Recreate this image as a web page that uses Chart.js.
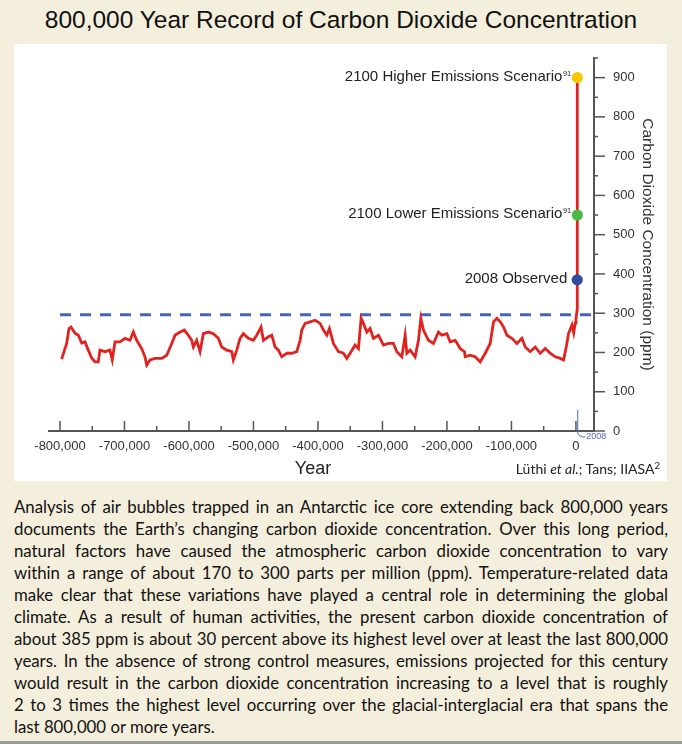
<!DOCTYPE html>
<html>
<head>
<meta charset="utf-8">
<script src="https://cdn.jsdelivr.net/npm/chart.js@4.4.1/dist/chart.umd.min.js"></script>
<style>
  html, body { margin: 0; padding: 0; }
  body {
    width: 682px; height: 744px; position: relative; overflow: hidden;
    background: #f4efdc; font-family: "Liberation Sans", Arial, sans-serif;
  }
  #title {
    position: absolute; left: 0; top: 5px; width: 682px;
    text-align: center; font-size: 24.5px; line-height: 30px; color: #111;
  }
  #panel {
    position: absolute; left: 14px; top: 44px; width: 653px; height: 437px;
    background: #fff;
  }
  #credit {
    position: absolute; right: 22px; top: 461px;
    font-family: Lato, sans-serif; font-size: 14px; line-height: 16px; color: #222;
  }
  #credit sup { font-size: 9.5px; vertical-align: 5px; line-height: 0; }
  #caption {
    position: absolute; left: 14px; top: 496px; width: 654px;
    font-family: Lato, sans-serif; font-size: 16.8px; line-height: 22px; color: #111;
  }
  #caption span { display: block; text-align: justify; text-align-last: justify; }
  #caption span:last-child { text-align-last: left; }
  #rule { position: absolute; left: 0; top: 741px; width: 682px; height: 3px; background: #9a9a9a; }
</style>
</head>
<body>
<div id="title">800,000 Year Record of Carbon Dioxide Concentration</div>
<div id="panel"><canvas id="co2Chart" width="653" height="437"></canvas></div>
<div id="credit">Lüthi <i>et al.</i>; Tans; IIASA<sup>2</sup></div>
<div id="caption">
<span>Analysis of air bubbles trapped in an Antarctic ice core extending back 800,000 years</span>
<span>documents the Earth’s changing carbon dioxide concentration. Over this long period,</span>
<span>natural factors have caused the atmospheric carbon dioxide concentration to vary</span>
<span>within a range of about 170 to 300 parts per million (ppm). Temperature-related data</span>
<span>make clear that these variations have played a central role in determining the global</span>
<span>climate. As a result of human activities, the present carbon dioxide concentration of</span>
<span>about 385 ppm is about 30 percent above its highest level over at least the last 800,000</span>
<span>years. In the absence of strong control measures, emissions projected for this century</span>
<span>would result in the carbon dioxide concentration increasing to a level that is roughly</span>
<span>2 to 3 times the highest level occurring over the glacial-interglacial era that spans the</span>
<span>last 800,000 or more years.</span>
</div>
<div id="rule"></div>
<script>
// ice core record + modern values (year, ppm)
const years = [
  -797400, -789600, -786000, -782900, -776700, -771600, -766300, -761200, -756100, -750800,
  -745700, -740600, -738000, -730200, -722500, -718900, -714700, -707000, -699200, -691400,
  -686300, -681000, -673300, -668200, -665500, -660400, -652600, -642200, -634500, -626700,
  -621600, -613800, -607200, -601000, -595700, -593200, -588000, -582800, -577700, -569900,
  -562200, -554400, -549200, -541400, -533600, -531200, -525900, -520800, -515700, -507900,
  -500100, -494900, -488200, -484600, -476900, -471600, -466500, -461400, -456100, -448300,
  -440600, -432800, -427700, -425100, -419900, -412200, -404400, -396700, -391500, -386300,
  -382200, -376000, -368300, -360500, -355300, -350100, -342400, -337200, -333100, -329500,
  -324200, -319100, -314000, -306200, -298500, -290700, -283000, -277700, -269900, -264800,
  -262200, -257000, -249300, -244200, -240500, -236400, -228700, -220900, -213200, -207900,
  -200100, -195000, -187200, -179500, -172800, -171700, -163900, -156200, -148500, -140700,
  -133000, -127800, -122600, -117400, -112300, -107000, -99300, -91500, -83800, -78600,
  -70900, -63100, -55400, -47600, -39900, -32100, -24400, -19200, -15000, -11500,
  -6200, -3500, -1100, 0, 1950, 2008, 2100
];
const co2 = [
  183, 223, 261, 265, 249, 244, 224, 227, 206, 186,
  176, 176, 206, 202, 206, 181, 227, 227, 236, 231,
  252, 231, 210, 189, 168, 181, 185, 185, 193, 223,
  244, 252, 257, 244, 231, 214, 231, 202, 248, 252,
  248, 236, 214, 206, 202, 181, 206, 236, 248, 236,
  231, 244, 265, 231, 240, 244, 214, 206, 189, 198,
  198, 202, 231, 257, 274, 278, 282, 274, 257, 244,
  261, 223, 202, 198, 185, 198, 219, 210, 287, 274,
  252, 261, 236, 244, 219, 223, 223, 202, 189, 244,
  198, 206, 189, 231, 287, 257, 231, 223, 252, 244,
  248, 227, 231, 210, 202, 189, 193, 189, 176, 198,
  223, 278, 287, 278, 265, 244, 236, 223, 236, 214,
  202, 214, 198, 210, 198, 189, 185, 181, 214, 248,
  270, 250, 275, 285, 310, 385, 900
];

const ceilingLevel = 296;
const ceilingYears = [-800000, 28000];

const markerYears = [2100, 2100, 2008];
const markerValues = [900, 550, 385];
const markerNames = ["2100 Higher Emissions Scenario", "2100 Lower Emissions Scenario", "2008 Observed"];
const markerNotes = ["91", "91", ""];
const markerColors = ["#f7c700", "#4cb848", "#2d4ca2"];

const xTicks = [-800000, -700000, -600000, -500000, -400000, -300000, -200000, -100000, 0];
const yTicks = [0, 100, 200, 300, 400, 500, 600, 700, 800, 900];

const FONT = "'Liberation Sans', Arial, sans-serif";

const extras = {
  id: "extras",
  afterDatasetsDraw(chart) {
    const { ctx, scales: { x, y } } = chart;
    ctx.save();
    // tick marks pointing into the plot
    ctx.strokeStyle = "#555";
    ctx.lineWidth = 1.5;
    for (let v = -800000; v <= 0; v += 50000) {
      const px = x.getPixelForValue(v);
      const len = v % 100000 === 0 ? 10 : 5;
      ctx.beginPath();
      ctx.moveTo(px, y.bottom);
      ctx.lineTo(px, y.bottom - len);
      ctx.stroke();
    }
    for (let v = 0; v <= 950; v += 50) {
      const py = y.getPixelForValue(v);
      const len = v % 100 === 0 ? 11 : 4;
      ctx.beginPath();
      ctx.moveTo(x.right, py);
      ctx.lineTo(x.right + len, py);
      ctx.stroke();
    }

    // 2008 marker under the axis
    const p08 = x.getPixelForValue(2008);
    ctx.strokeStyle = "#4d64c6";
    ctx.lineWidth = 1;
    ctx.beginPath();
    ctx.moveTo(p08 + 0.5, y.bottom - 21);
    ctx.lineTo(p08 + 0.5, y.bottom + 2);
    ctx.quadraticCurveTo(p08 + 1.5, y.bottom + 6, p08 + 8, y.bottom + 6);
    ctx.stroke();
    ctx.fillStyle = "#4d64c6";
    ctx.font = "9px " + FONT;
    ctx.textAlign = "left";
    ctx.textBaseline = "middle";
    ctx.fillText("2008", p08 + 9, y.bottom + 6);

    // labels beside the markers
    ctx.fillStyle = "#222";
    ctx.textAlign = "right";
    markerNames.forEach((name, i) => {
      const px = x.getPixelForValue(markerYears[i]);
      const py = y.getPixelForValue(markerValues[i]);
      let rx = px - 10;
      if (markerNotes[i]) {
        rx = px - 6;
        ctx.font = "7.5px " + FONT;
        ctx.fillText(markerNotes[i], rx, py - 4);
        rx -= ctx.measureText(markerNotes[i]).width + 0.5;
      }
      ctx.font = "15px " + FONT;
      ctx.fillText(name, rx, py - 1);
    });

    // x axis title
    ctx.font = "18px " + FONT;
    ctx.textAlign = "center";
    ctx.fillText("Year", 299, 425);
    ctx.restore();
  }
};

new Chart(document.getElementById("co2Chart"), {
  type: "line",
  data: {
    datasets: [
      {
        type: "scatter",
        data: markerYears.map((v, i) => ({ x: v, y: markerValues[i] })),
        pointRadius: 5.6,
        pointHoverRadius: 5.6,
        pointBackgroundColor: markerColors,
        pointBorderWidth: 0,
        showLine: false,
        order: 0
      },
      {
        data: years.map((v, i) => ({ x: v, y: co2[i] })),
        borderColor: "#e0231f",
        borderWidth: 2.8,
        pointRadius: 0,
        tension: 0,
        order: 1
      },
      {
        data: ceilingYears.map((v) => ({ x: v, y: ceilingLevel })),
        borderColor: "#4563b8",
        borderWidth: 3,
        borderDash: [11, 9],
        pointRadius: 0,
        order: 2
      }
    ]
  },
  options: {
    responsive: false,
    animation: false,
    events: [],
    layout: { padding: { left: 35, top: 14, right: 0, bottom: 0 } },
    plugins: { legend: { display: false }, tooltip: { enabled: false } },
    scales: {
      x: {
        type: "linear",
        position: "bottom",
        min: -817000,
        max: 28000,
        grid: { display: false, drawTicks: false },
        border: { display: true, color: "#555", width: 2 },
        ticks: {
          color: "#333",
          font: { family: FONT, size: 13 },
          padding: 8,
          maxRotation: 0,
          autoSkip: false,
          callback: (v) => v.toLocaleString("en-US")
        },
        afterBuildTicks: (s) => { s.ticks = xTicks.map((v) => ({ value: v })); },
        afterFit: (s) => { s.height = 50; s.paddingLeft = 0; s.paddingRight = 0; }
      },
      y: {
        type: "linear",
        position: "right",
        min: 0,
        max: 950,
        grid: { display: false, drawTicks: false },
        border: { display: true, color: "#555", width: 2 },
        ticks: {
          color: "#333",
          font: { family: FONT, size: 13 },
          padding: 19
        },
        title: {
          display: true,
          text: "Carbon Dioxide Concentration (ppm)",
          color: "#333",
          font: { family: FONT, size: 15.5 },
          padding: { top: 10, bottom: 0 }
        },
        afterBuildTicks: (s) => { s.ticks = yTicks.map((v) => ({ value: v })); },
        afterFit: (s) => { s.width = 73; s.paddingTop = 0; s.paddingBottom = 0; }
      }
    }
  },
  plugins: [extras]
});
</script>
</body>
</html>
